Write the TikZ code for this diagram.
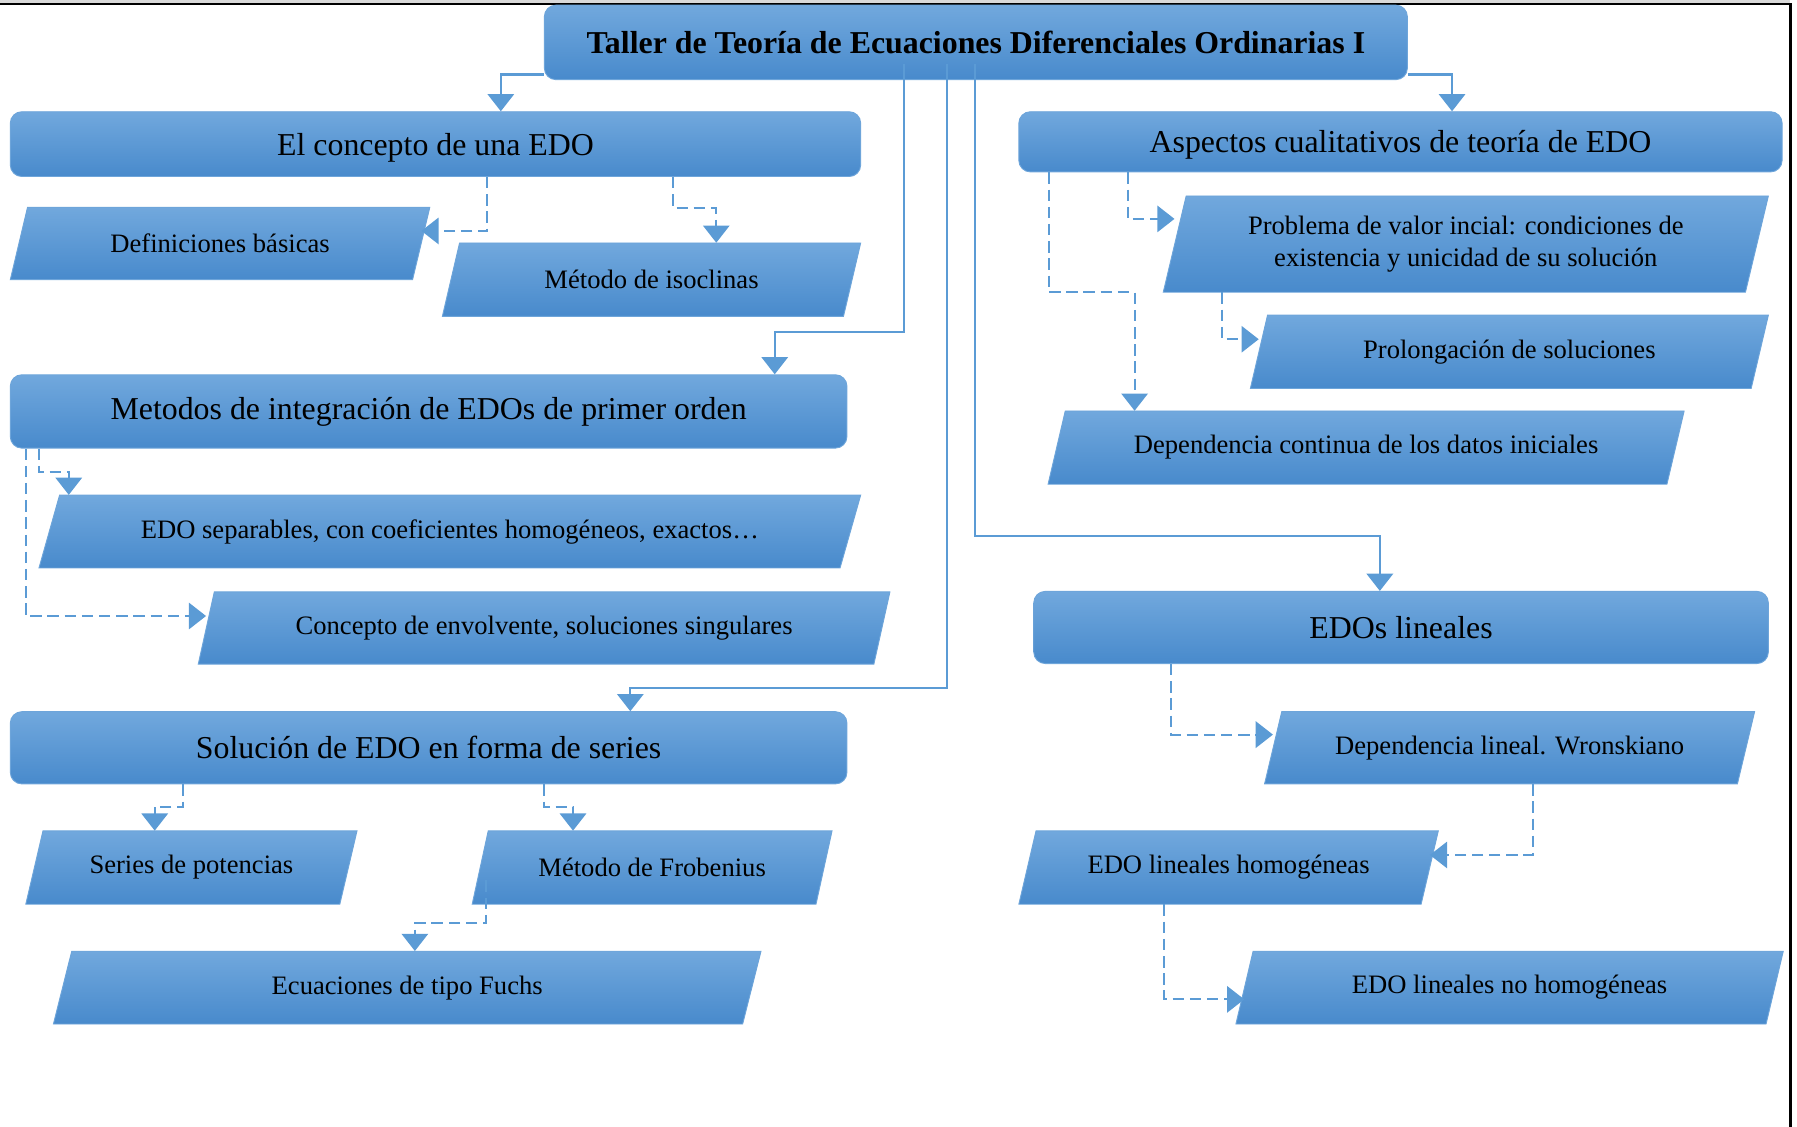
\documentclass[tikz,border=0pt]{standalone}
\usepackage{fontspec}
\setmainfont{Liberation Serif}
\usetikzlibrary{arrows.meta}
\definecolor{btop}{RGB}{113,168,221}
\definecolor{bmid}{RGB}{87,156,221}
\definecolor{bbot}{RGB}{72,138,204}
\definecolor{bedge}{RGB}{110,165,218}
\definecolor{conn}{RGB}{91,155,213}
\tikzset{
 boxfill/.style={top color=btop, middle color=bmid, bottom color=bbot, draw=bedge, line width=0.8pt},
 mainbox/.style={boxfill, rounded corners=10pt, inner sep=0pt, align=center, font=\fontsize{27.8}{32}\selectfont},
 titlebox/.style={mainbox, font=\fontsize{27.8}{32}\selectfont\bfseries},
 paratext/.style={inner sep=0pt, align=center, font=\fontsize{23.2}{28}\selectfont},
 sconn/.style={draw=conn, line width=1.8pt, -{Triangle[width=23pt,length=15pt]}},
 dconn/.style={draw=conn, line width=1.8pt, dash pattern=on 10pt off 5pt, -{Triangle[width=23pt,length=15pt]}},
}
\newcommand\para[7]{%
  \path[boxfill] (#2,#5) -- ({#2+#6},#4) -- (#3,#4) -- ({#3-#6},#5) -- cycle;
  \node[paratext, minimum width={#3-#2-#6}, minimum height={#5-#4}] (#1) at ({(#2+#3)/2},{(#4+#5)/2}) {#7};
}
\begin{document}
\begin{tikzpicture}[x=1pt,y=-1pt]
\useasboundingbox (0,0) rectangle (1568,983);
% frame
\fill[black!15] (0,0) rectangle (1562,2.6);
\fill[black] (0,2.6) rectangle (1563.5,4.4);
\fill[black] (1561,2.6) rectangle (1563.5,983);
% main boxes
\node[titlebox, minimum width=753, minimum height=65] (title) at (851.5,37) {Taller de Teoría de Ecuaciones Diferenciales Ordinarias I};
\node[mainbox, text depth=0pt, minimum width=742, minimum height=56.5] (concepto) at (380,125.75) {El concepto de una EDO};
\node[mainbox, text depth=0pt, minimum width=666, minimum height=52.5] (asp) at (1222,123.75) {Aspectos cualitativos de teoría de EDO};
\node[mainbox, minimum width=730, minimum height=64] (met) at (374,359) {Metodos de integración de EDOs de primer orden};
\node[mainbox, minimum width=730, minimum height=63] (sol) at (374,652.5) {Solución de EDO en forma de series};
\node[mainbox, minimum width=641, minimum height=63] (lin) at (1222.5,547.5) {EDOs lineales};
% parallelograms: name, x bottom-left, x top-right, y top, y bottom, skew, text
\para{def}{9}{375}{181}{244}{15}{Definiciones básicas}
\para{iso}{386}{751}{212}{276}{15}{Método de isoclinas}
\para{prob}{1015}{1543}{171}{255}{20}{Problema de valor incial: condiciones de\\existencia y unicidad de su solución}
\para{prol}{1091}{1543}{275}{339}{15}{Prolongación de soluciones}
\para{depc}{914.5}{1469.5}{358.6}{422.5}{15}{Dependencia continua de los datos iniciales}
\para{sep}{34}{751}{432}{495.6}{18}{EDO separables, con coeficientes homogéneos, exactos…}
\para{env}{173}{776.5}{516.5}{579.5}{14}{Concepto de envolvente, soluciones singulares}
\para{ser}{22.5}{311.5}{725}{789}{15}{Series de potencias}
\para{frob}{412}{726}{725}{789}{14}{Método de Frobenius}
\para{fuchs}{46.6}{664}{830}{893.5}{16}{Ecuaciones de tipo Fuchs}
\para{depl}{1103.4}{1531}{621}{684}{15}{Dependencia lineal. Wronskiano}
\para{hom}{889}{1255}{725}{789}{15}{EDO lineales homogéneas}
\para{nohom}{1078.4}{1556}{830}{893.5}{15}{EDO lineales no homogéneas}
% solid connectors
\draw[sconn] (title.west |- 0,65) -| (concepto.north -| 437,0);
\draw[sconn] (title.east |- 0,65) -| (asp.north -| 1267,0);
\draw[sconn] (title.south -| 789,0) ++(0,-14) |- (676,290) -- (met.north -| 676,0);
\draw[sconn] (title.south -| 826,0) ++(0,-14) |- (550,600) -- (sol.north -| 550,0);
\draw[sconn] (title.south -| 851,0) ++(0,-14) |- (1204,468) -- (lin.north -| 1204,0);
% dashed connectors
\draw[dconn] (concepto.south -| 425,0) |- (def.east |- 0,201.5);
\draw[dconn] (concepto.south -| 587.5,0) |- (625,181.6) -- (iso.north -| 625,0);
\draw[dconn] (asp.south -| 984,0) |- (prob.west |- 0,191);
\draw[dconn] (asp.south -| 915,0) |- (990,255) -- (depc.north -| 990,0);
\draw[dconn] (prob.south -| 1066,0) |- (prol.west |- 0,296);
\draw[dconn] (met.south -| 34,0) |- (60,412) -- (sep.north -| 60,0);
\draw[dconn] (met.south -| 22.5,0) |- (env.west |- 0,537.5);
\draw[dconn] (sol.south -| 160,0) |- (135,704) -- (ser.north -| 135,0);
\draw[dconn] (sol.south -| 474.5,0) |- (500,704) -- (frob.north -| 500,0);
\draw[dconn] (frob.south -| 424,0) ++(0,-21) |- (362,805.6) -- (fuchs.north -| 362,0);
\draw[dconn] (lin.south -| 1022,0) |- (depl.west |- 0,641);
\draw[dconn] (depl.south -| 1337.4,0) |- (hom.east |- 0,746);
\draw[dconn] (hom.south -| 1016,0) |- (nohom.west |- 0,872);
\end{tikzpicture}
\end{document}
